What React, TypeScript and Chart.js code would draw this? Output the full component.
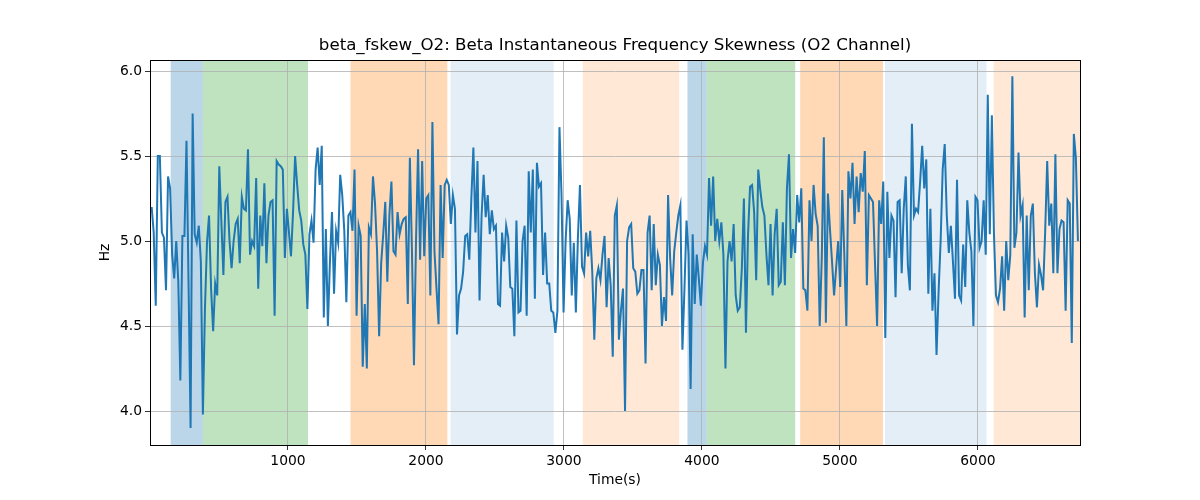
import React, { useEffect, useRef } from "react";
import { Chart, registerables } from "chart.js";

Chart.register(...registerables);

const TITLE = "beta_fskew_O2: Beta Instantaneous Frequency Skewness (O2 Channel)";
const X_LABEL = "Time(s)";
const Y_LABEL = "Hz";

const T_START = 12;
const T_END = 6725;
const X_MIN = 0;
const X_MAX = 6740;
const Y_MIN = 3.8;
const Y_MAX = 6.065;

const xTicks = [1000, 2000, 3000, 4000, 5000, 6000];
const yTicks = [4.0, 4.5, 5.0, 5.5, 6.0];

const skewValues = [
  5.20, 5.05, 4.62, 5.50, 5.50, 5.05, 5.02, 4.71, 5.38, 5.31, 4.92, 4.78, 5.00, 4.76, 4.18, 5.03, 5.03, 5.59, 4.75, 3.90,
  5.75, 5.04, 4.99, 5.09, 4.88, 3.98, 4.60, 4.99, 5.15, 4.72, 4.47, 4.75, 4.68, 5.44, 5.12, 4.80, 5.23, 5.26, 5.00, 4.84,
  5.00, 5.10, 5.13, 4.87, 5.26, 5.19, 5.18, 5.54, 4.92, 5.00, 4.97, 5.37, 4.72, 5.15, 4.97, 5.34, 4.87,
  5.15, 5.23, 5.24, 4.56, 5.47, 5.45, 5.44, 5.42, 4.90, 5.19, 5.05, 4.91, 5.17, 5.50, 5.33, 5.18, 5.12, 4.98, 4.92, 4.60,
  5.04, 5.12, 4.99, 5.42, 5.55, 5.33, 5.56, 4.55, 5.07, 4.50, 4.88, 5.17, 4.69, 5.06, 4.99, 5.39, 5.27, 5.06, 4.64, 5.15,
  5.17, 5.06, 5.42, 4.56, 5.09, 5.03, 4.26, 4.63, 4.25, 5.08, 5.04, 5.38, 5.22, 4.94, 4.44, 4.87, 5.04, 5.23, 4.76, 5.15,
  5.35, 4.94, 4.92,
  5.17, 5.04, 5.10, 5.13, 5.14, 4.63, 5.49, 4.95, 4.27, 5.00, 5.54, 4.89, 5.47, 4.91, 5.25, 5.27, 4.68, 5.70, 4.94, 4.72,
  4.51, 5.33, 4.90, 5.33, 5.36, 5.33, 5.10, 5.27, 5.19, 4.45, 4.68, 4.72, 4.82, 5.03, 5.04, 4.89, 5.25, 5.55, 5.05, 5.47,
  4.65, 5.15, 5.39, 5.14, 5.27, 5.04, 5.18, 5.07, 5.09, 4.63, 4.62, 5.05, 4.88, 5.09, 5.02, 4.73, 4.72, 4.44,
  5.12, 4.58, 4.59, 5.00, 5.09, 4.56, 5.41, 5.05, 5.42, 4.66, 5.46, 5.32, 5.34, 4.80, 5.05, 4.75, 4.75, 4.59, 4.58, 4.46,
  4.59, 5.67, 5.27, 4.58, 5.00, 5.24, 5.13, 4.68, 4.99, 4.58, 5.02, 5.33, 4.85, 4.81, 5.05, 4.91, 5.06, 4.82, 4.42, 4.78,
  4.84, 4.77, 4.92, 5.03, 4.61, 4.90, 4.74, 4.32, 5.15, 5.21, 4.42, 4.59, 4.72, 4.00, 5.00, 5.08, 5.10,
  4.84, 4.82, 4.69, 4.71, 4.83, 4.83, 4.28, 5.05, 5.15, 4.71, 5.10, 4.74, 4.92, 4.86, 4.50, 4.67, 4.53, 5.27, 4.90, 4.68,
  4.94, 5.05, 5.15, 5.21, 4.36, 4.72, 5.12, 4.92, 4.13, 5.04, 4.63, 4.92, 4.78, 4.62, 4.87, 4.97, 4.92, 5.37, 5.09, 5.38,
  5.00, 5.13, 5.00, 5.11, 4.92, 4.25, 4.88, 5.00, 4.88, 5.10, 4.68, 4.59, 4.61, 4.84, 5.25, 4.46, 5.03, 5.32,
  5.33, 5.17, 4.77, 5.42, 5.30, 5.20, 5.15, 4.92, 4.74, 5.10, 4.68, 5.04, 5.19, 4.74, 4.76, 5.11, 4.74, 5.31, 5.51, 4.90,
  5.07, 4.93, 5.27, 5.11, 5.31, 4.72, 4.71, 4.59, 5.24, 5.00, 5.33, 5.16, 5.09, 4.50, 4.90, 5.61, 4.52, 5.28, 5.07, 4.88,
  4.68, 4.84, 5.00, 4.73, 5.30, 4.92, 4.50, 5.41, 5.25, 5.46, 5.10, 5.38, 5.17, 5.40, 5.29, 5.53, 4.74, 5.27,
  5.25, 5.23, 4.86, 4.50, 5.24, 5.10, 5.35, 4.43, 5.29, 4.90, 5.15, 5.12, 4.67, 5.23, 5.24, 4.81, 5.19, 5.38, 4.86, 4.71,
  5.69, 5.15, 5.19, 5.17, 5.35, 5.56, 5.31, 5.48, 4.69, 5.19, 4.59, 4.81, 4.33, 4.70, 5.00, 5.42, 5.57, 5.15, 4.93, 5.09,
  4.88, 4.66, 5.36, 4.68, 4.65, 4.98, 4.73, 5.24, 5.05, 4.94, 4.50, 5.26, 5.24, 4.96, 5.00, 5.24, 4.92, 5.86, 5.04,
  5.74, 5.05, 4.68, 4.64, 4.72, 4.91, 4.59, 5.00, 4.77, 4.92, 5.97, 4.96, 5.05, 5.52, 5.15, 5.21, 4.55, 5.15, 4.71, 5.15,
  5.22, 4.81, 4.61, 4.86, 4.80, 4.71, 5.05, 5.47, 5.09, 5.22, 4.81, 5.51, 4.81, 5.07, 5.12, 5.11, 4.59, 5.24, 5.22, 4.40,
  5.63, 5.49, 5.00,
];

// Shaded intervals: [start, end] in seconds, and fill colour
const bandStarts = [150, 383, 1453, 2179, 3136, 3895, 4034, 4712, 5327, 6114];
const bandEnds = [383, 1145, 2155, 2926, 3835, 4034, 4676, 5312, 6062, 6740];
const bandColors = [
  "rgba(31,119,180,0.3)",
  "rgba(44,160,44,0.3)",
  "rgba(255,127,14,0.3)",
  "rgba(31,119,180,0.12)",
  "rgba(255,127,14,0.17)",
  "rgba(31,119,180,0.3)",
  "rgba(44,160,44,0.3)",
  "rgba(255,127,14,0.3)",
  "rgba(31,119,180,0.12)",
  "rgba(255,127,14,0.17)",
];

const FONT = "'DejaVu Sans', sans-serif";
const TICK_SIZE = 13.89;
const TITLE_SIZE = 16.67;

export default function App() {
  const canvasRef = useRef<HTMLCanvasElement | null>(null);

  useEffect(() => {
    const canvas = canvasRef.current;
    if (!canvas) return;
    const step = (T_END - T_START) / (skewValues.length - 1);
    const points = skewValues.map((v, i) => ({ x: T_START + i * step, y: v }));

    const bandsPlugin = {
      id: "bands",
      beforeDraw(chart: any) {
        const { ctx, chartArea, scales } = chart;
        const xs = scales.x;
        ctx.save();
        ctx.beginPath();
        ctx.rect(chartArea.left, chartArea.top, chartArea.right - chartArea.left, chartArea.bottom - chartArea.top);
        ctx.clip();
        for (let i = 0; i < bandStarts.length; i++) {
          const x0 = xs.getPixelForValue(bandStarts[i]);
          const x1 = xs.getPixelForValue(bandEnds[i]);
          ctx.fillStyle = bandColors[i];
          ctx.fillRect(x0, chartArea.top, x1 - x0, chartArea.bottom - chartArea.top);
        }
        ctx.restore();
      },
      afterDraw(chart: any) {
        const { ctx, chartArea } = chart;
        ctx.save();
        ctx.strokeStyle = "#000";
        ctx.lineWidth = 1;
        ctx.strokeRect(
          Math.round(chartArea.left) + 0.5,
          Math.round(chartArea.top) + 0.5,
          Math.round(chartArea.right - chartArea.left),
          Math.round(chartArea.bottom - chartArea.top)
        );
        ctx.fillStyle = "#000";
        ctx.font = `${TITLE_SIZE}px ${FONT}`;
        ctx.textAlign = "center";
        ctx.textBaseline = "middle";
        ctx.fillText(TITLE, (chartArea.left + chartArea.right) / 2, 46);
        ctx.restore();
      },
    };

    const chart = new Chart(canvas, {
      type: "line",
      data: {
        datasets: [
          {
            data: points,
            borderColor: "#1f77b4",
            borderWidth: 2,
            pointRadius: 0,
            tension: 0,
            fill: false,
          },
        ],
      },
      options: {
        animation: false,
        responsive: false,
        maintainAspectRatio: false,
        layout: { padding: { left: 0, right: 120, top: 60, bottom: 0 } },
        plugins: {
          legend: { display: false },
          tooltip: { enabled: false },
          title: { display: false },
        },
        scales: {
          x: {
            type: "linear",
            min: X_MIN,
            max: X_MAX,
            afterBuildTicks: (scale: any) => {
              scale.ticks = xTicks.map((v) => ({ value: v }));
            },
            afterFit: (scale: any) => {
              scale.height = 55;
            },
            grid: {
              color: "#b0b0b0",
              lineWidth: 0.8,
              tickLength: 5,
              tickColor: "#000",
            },
            border: { display: true, color: "#000", width: 1 },
            ticks: {
              color: "#000",
              padding: 3,
              maxRotation: 0,
              font: { family: FONT, size: TICK_SIZE },
              callback: (v: any) => String(v),
            },
            title: {
              display: true,
              text: X_LABEL,
              color: "#000",
              font: { family: FONT, size: TICK_SIZE },
              padding: { top: 0, bottom: 11 },
            },
          },
          y: {
            type: "linear",
            min: Y_MIN,
            max: Y_MAX,
            afterBuildTicks: (scale: any) => {
              scale.ticks = yTicks.map((v) => ({ value: v }));
            },
            afterFit: (scale: any) => {
              scale.width = 150;
            },
            grid: {
              color: "#b0b0b0",
              lineWidth: 0.8,
              tickLength: 5,
              tickColor: "#000",
            },
            border: { display: true, color: "#000", width: 1 },
            ticks: {
              color: "#000",
              padding: 3,
              font: { family: FONT, size: TICK_SIZE },
              callback: (v: any) => Number(v).toFixed(1),
            },
            title: {
              display: true,
              text: Y_LABEL,
              color: "#000",
              font: { family: FONT, size: TICK_SIZE },
              padding: { top: 97, bottom: 0 },
            },
          },
        },
      },
      plugins: [bandsPlugin],
    } as any);

    return () => chart.destroy();
  }, []);

  return (
    <div style={{ position: "fixed", left: 0, top: 0, width: 1200, height: 500, background: "#fff" }}>
      <canvas ref={canvasRef} width={1200} height={500} style={{ width: 1200, height: 500 }} />
    </div>
  );
}
